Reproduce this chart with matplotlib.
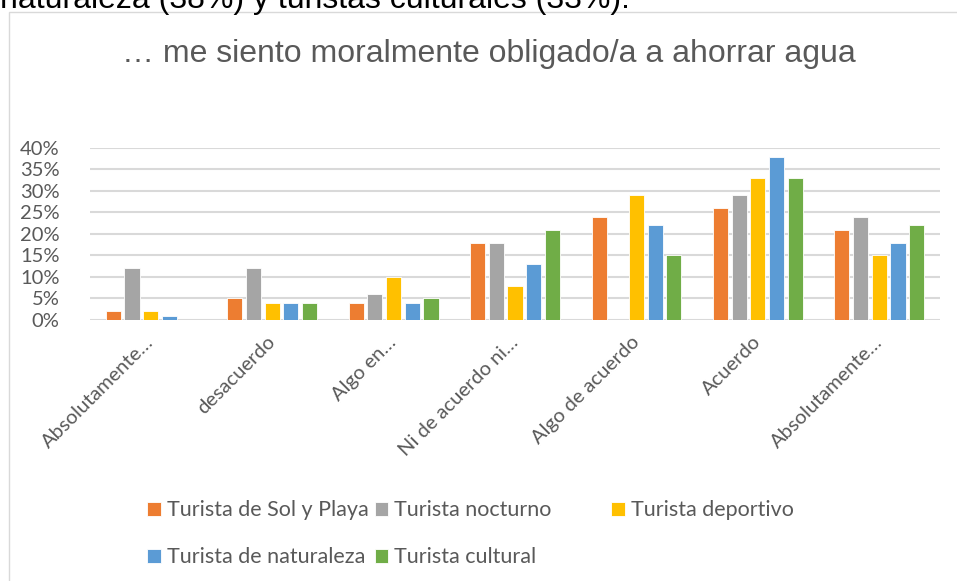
import numpy as np
import matplotlib as mpl
mpl.use('Agg')
import matplotlib.pyplot as plt
from matplotlib.patches import Rectangle

categories = ['Absolutamente…', 'desacuerdo', 'Algo en…', 'Ni de acuerdo ni…',
              'Algo de acuerdo', 'Acuerdo', 'Absolutamente…']
series = ['Turista de Sol y Playa', 'Turista nocturno', 'Turista deportivo',
          'Turista de naturaleza', 'Turista cultural']
sol_playa = [2, 5, 4, 18, 24, 26, 21]
nocturno = [12, 12, 6, 18, 0, 29, 24]
deportivo = [2, 4, 10, 8, 29, 33, 15]
naturaleza = [1, 4, 4, 13, 22, 38, 18]
cultural = [0, 4, 5, 21, 15, 33, 22]
yticks = [0, 5, 10, 15, 20, 25, 30, 35, 40]

colors = ['#ED7D31', '#A5A5A5', '#FFC000', '#5B9BD5', '#70AD47']
text_grey = '#595959'

fig = plt.figure(figsize=(9.57, 5.81), dpi=100)

# chart frame and the clipped line of text above it
fig.patches.append(Rectangle((8.5 / 957, -0.1), 1.1, 1 - 12.5 / 581 + 0.1,
                             transform=fig.transFigure, fill=False,
                             edgecolor='#d9d9d9', linewidth=1))
fig.text(0.0, 1 - 8 / 581, 'naturaleza (38%) y turistas culturales (33%).',
         fontsize=23, family='Liberation Sans', color='black',
         ha='left', va='baseline')
fig.text(489 / 957, 1 - 62 / 581, '… me siento moralmente obligado/a a ahorrar agua',
         fontsize=23, family='Liberation Sans', color=text_grey,
         ha='center', va='baseline')

ax = fig.add_axes([90 / 957, 1 - 320 / 581, 850 / 957, 172 / 581])
x = np.arange(len(categories))
step = 0.154
width = 0.124
values = [sol_playa, nocturno, deportivo, naturaleza, cultural]
bars = []
for i, (name, vals) in enumerate(zip(series, values)):
    b = ax.bar(x + (i - 2) * step, np.array(vals) / 100, width,
               color=colors[i], edgecolor='white', linewidth=0.6,
               label=name, zorder=3)
    bars.append(b)

ax.set_xlim(-0.5, len(categories) - 0.5)
ax.set_ylim(0, 0.40)
ax.set_yticks([v / 100 for v in yticks])
ax.set_yticklabels(['%d%%' % v for v in yticks])
ax.yaxis.grid(True, color='#d9d9d9', linewidth=1.5, zorder=0)
ax.set_axisbelow(True)
for s in ax.spines.values():
    s.set_visible(False)
ax.tick_params(axis='both', length=0, colors=text_grey, labelsize=14.5)
ax.tick_params(axis='y', pad=22)
for lab in ax.get_yticklabels():
    lab.set_family('Lato')

ax.set_xticks(x)
ax.set_xticklabels(categories, rotation=45, rotation_mode='anchor',
                   ha='right', va='center', family='Lato', fontsize=14.5)
ax.tick_params(axis='x', pad=14)

# legend: two blocks to mimic the uneven column spacing
legend_kw = dict(loc='upper left', frameon=False, handlelength=0.62,
                 handleheight=0.62, handletextpad=0.28,
                 prop={'family': 'Lato', 'size': 15.5})
leg1 = fig.legend([bars[0], bars[3], bars[1], bars[4]],
                  [series[0], series[3], series[1], series[4]],
                  ncol=2, bbox_to_anchor=(128 / 957, 1 - 481 / 581),
                  columnspacing=0.3, labelspacing=1.25, **legend_kw)
leg2 = fig.legend([bars[2]], [series[2]],
                  bbox_to_anchor=(592 / 957, 1 - 481 / 581), **legend_kw)
for leg in (leg1, leg2):
    for t in leg.get_texts():
        t.set_color(text_grey)

fig.savefig('out.png', dpi=100)
